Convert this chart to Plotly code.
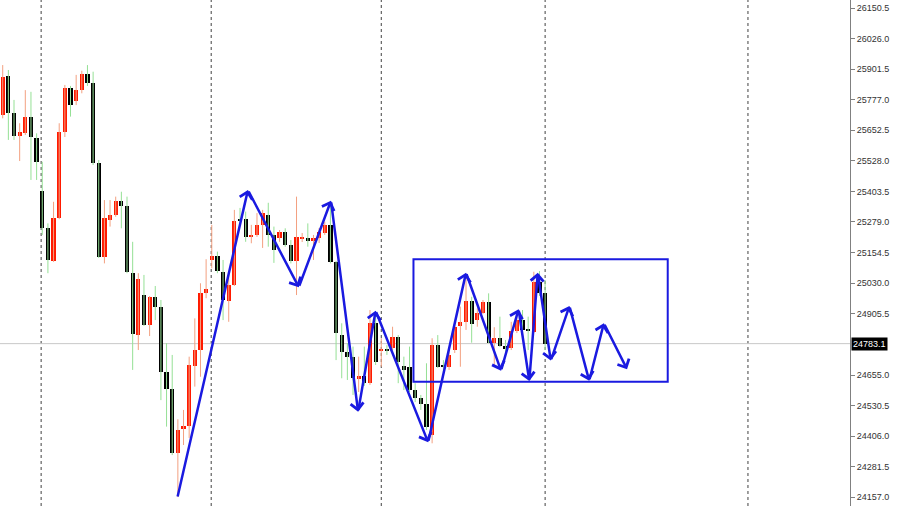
import plotly.graph_objects as go

# ---- candle data (bar index 0..96) ----
opens = [25715, 25875, 25721, 25630, 25642, 25705, 25622, 25405, 25253, 25121,
         25294, 25647, 25823, 25773, 25816, 25880, 25844, 25518, 25135, 25287,
         25307, 25364, 25344, 25072, 24818, 24981, 24859, 24972, 24931, 24666,
         24598, 24336, 24435, 24447, 24692, 24757, 24988, 25124, 25140, 25076,
         24958, 25022, 25291, 25291, 25219, 25226, 25267, 25307, 25226, 25212,
         25239, 25185, 25121, 25212, 25215, 25202, 25212, 25235, 25267, 25117,
         24818, 24750, 24727, 24639, 24651, 24622, 24866, 24754, 24762, 24765,
         24809, 24692, 24687, 24594, 24560, 24537, 24411, 24778, 24696, 24687,
         24757, 24855, 24872, 24958, 24879, 24909, 24952, 24785, 24805, 24773,
         24764, 24835, 24879, 24839, 24832, 25034, 24988]
highs = [25918, 25898, 25776, 25681, 25816, 25809, 25640, 25524, 25273, 25361,
         25681, 25837, 25833, 25878, 25895, 25918, 25891, 25531, 25368, 25368,
         25382, 25402, 25382, 25198, 25070, 25063, 24977, 25018, 24961, 24785,
         24737, 24475, 24513, 24730, 24886, 25029, 25127, 25267, 25158, 25124,
         25063, 25328, 25336, 25321, 25267, 25315, 25328, 25357, 25260, 25246,
         25253, 25205, 25382, 25234, 25273, 25226, 25254, 25280, 25352, 25120,
         24866, 24785, 24771, 24730, 24771, 24920, 24916, 24805, 24777, 24852,
         24818, 24730, 24771, 24622, 24574, 24703, 24805, 24818, 24716, 24757,
         24859, 24934, 25059, 24974, 24927, 24961, 24988, 24850, 24893, 24798,
         24872, 24912, 24920, 24893, 25076, 25079, 25042]
lows = [25701, 25613, 25613, 25527, 25633, 25450, 25450, 25226, 25070, 25116,
        25290, 25625, 25708, 25755, 25803, 25833, 25511, 25132, 25110, 25260,
        25300, 25253, 25070, 24676, 24757, 24855, 24814, 24879, 24553, 24445,
        24329, 24158, 24370, 24399, 24608, 24648, 24968, 25090, 25070, 24879,
        24872, 25018, 25271, 25198, 25192, 25218, 25173, 25178, 25112, 25198,
        25178, 25110, 24981, 25197, 25178, 25124, 25193, 25226, 25110, 24716,
        24642, 24635, 24574, 24586, 24611, 24615, 24696, 24689, 24737, 24757,
        24622, 24594, 24586, 24545, 24513, 24431, 24377, 24684, 24668, 24676,
        24745, 24689, 24839, 24787, 24852, 24904, 24785, 24696, 24769, 24749,
        24757, 24826, 24818, 24757, 24826, 24977, 24757]
closes = [25871, 25721, 25630, 25644, 25705, 25624, 25522, 25253, 25124, 25296,
          25647, 25826, 25755, 25816, 25880, 25844, 25518, 25137, 25294, 25307,
          25365, 25344, 25076, 24822, 25047, 24859, 24972, 24931, 24669, 24598,
          24336, 24431, 24447, 24696, 24757, 24988, 25004, 25140, 25080, 24961,
          25022, 25284, 25283, 25219, 25226, 25267, 25314, 25226, 25165, 25239,
          25185, 25121, 25216, 25216, 25201, 25212, 25239, 25267, 25117, 24825,
          24750, 24727, 24642, 24651, 24623, 24866, 24710, 24760, 24753, 24810,
          24710, 24676, 24594, 24560, 24537, 24445, 24778, 24689, 24687, 24737,
          24852, 24872, 24958, 24863, 24909, 24952, 24787, 24805, 24773, 24763,
          24835, 24881, 24839, 24835, 25036, 24989, 24783.1]

# period separators (bar index)
separators = [6.8, 36.9, 67, 96, 131.9]

# hand-drawn zigzag (bar index, price)
zz_x = [30.9, 43.4, 52.4, 58.1, 62.9, 66.0, 75.3, 82.0, 88.2, 91.3,
        93.2, 94.7, 97.0, 100.3, 103.8, 106.4, 110.5]
zz_p = [24154, 25409, 25013, 25365, 24506, 24917, 24381, 25072, 24673, 24923,
        24631, 25072, 24714, 24936, 24632, 24866, 24679]

# range box
box_x = [72.7, 117.7]
box_p = [24628, 25127]

last_price = 24783.1

tick_vals = [26150.5, 26026.0, 25901.5, 25777.0, 25652.5, 25528.0, 25403.5,
             25279.0, 25154.5, 25030.0, 24905.5, 24655.0, 24530.5, 24406.0,
             24281.5, 24157.0]
tick_text = [f"{v:.1f}" for v in tick_vals]

# ---- styling ----
UP_BODY = "#ff1a00"
UP_WICK = "#f3a080"
DN_BODY = "#000000"
DN_WICK = "#95e095"
BLUE = "#1a1ae0"
MIN_BODY = 3.0
FONT = "Liberation Sans, Arial, sans-serif"

idx = list(range(len(opens)))
up = [i for i in idx if closes[i] >= opens[i]]
dn = [i for i in idx if closes[i] < opens[i]]


def wick_xy(sel):
    xs, ys = [], []
    for i in sel:
        xs += [i, i, None]
        ys += [lows[i], highs[i], None]
    return xs, ys


fig = go.Figure()
for sel, col in ((up, UP_WICK), (dn, DN_WICK)):
    wx, wy = wick_xy(sel)
    fig.add_trace(go.Scatter(x=wx, y=wy, mode="lines",
                             line=dict(color=col, width=1),
                             hoverinfo="skip", showlegend=False))

fig.add_trace(go.Bar(x=up, base=[opens[i] for i in up],
                     y=[max(closes[i] - opens[i], MIN_BODY) for i in up],
                     width=0.75, marker=dict(color=UP_BODY, line=dict(width=0)),
                     showlegend=False, hoverinfo="skip"))
fig.add_trace(go.Bar(x=dn, base=[closes[i] for i in dn],
                     y=[max(opens[i] - closes[i], MIN_BODY) for i in dn],
                     width=0.75, marker=dict(color=DN_BODY, line=dict(width=0)),
                     showlegend=False, hoverinfo="skip"))

shapes = []
for s in separators:
    shapes.append(dict(type="line", xref="x", yref="paper", x0=s, x1=s, y0=0, y1=1,
                       line=dict(color="#404040", width=1, dash="dot"), layer="below"))
shapes.append(dict(type="line", xref="paper", yref="y", x0=0, x1=1,
                   y0=last_price, y1=last_price,
                   line=dict(color="#c8c8c8", width=1), layer="below"))
shapes.append(dict(type="rect", xref="x", yref="y", x0=box_x[0], x1=box_x[1],
                   y0=box_p[0], y1=box_p[1], line=dict(color=BLUE, width=2),
                   fillcolor="rgba(0,0,0,0)"))

annotations = []
for k in range(1, len(zz_x)):
    annotations.append(dict(x=zz_x[k], y=zz_p[k], ax=zz_x[k - 1], ay=zz_p[k - 1],
                            xref="x", yref="y", axref="x", ayref="y", text="",
                            showarrow=True, arrowhead=4, arrowsize=1.0,
                            arrowwidth=2.5, arrowcolor=BLUE, standoff=0,
                            startstandoff=0))
annotations.append(dict(x=1, y=last_price, xref="paper", yref="y",
                        text=f"{last_price:.1f}", showarrow=False,
                        xanchor="left", yanchor="middle", xshift=1,
                        bgcolor="#000000", borderpad=1,
                        font=dict(color="#ffffff", size=9, family=FONT)))

fig.update_layout(
    width=900, height=506,
    margin=dict(l=0, r=50, t=0, b=0, autoexpand=False),
    paper_bgcolor="white", plot_bgcolor="white",
    barmode="overlay", bargap=0,
    shapes=shapes, annotations=annotations,
    showlegend=False, hovermode=False,
    xaxis=dict(range=[-0.48, 149.96], visible=False, fixedrange=True),
    yaxis=dict(range=[24121.6, 26183.1], side="right", showgrid=False,
               automargin=False, fixedrange=True,
               zeroline=False, showline=True, linecolor="#808080", linewidth=1,
               ticks="outside", ticklen=4, tickcolor="#808080",
               tickvals=tick_vals, ticktext=tick_text,
               tickfont=dict(size=9, color="#333333", family=FONT)),
)

fig.write_html("out.html",
               config={"displayModeBar": False},
               post_script="document.body.style.margin='0';document.body.style.overflow='hidden';")
